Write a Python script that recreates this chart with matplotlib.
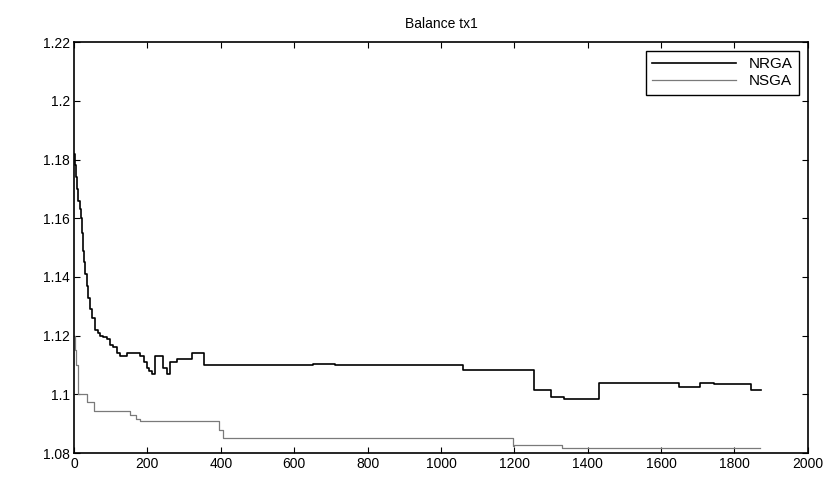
import matplotlib.pyplot as plt

plt.rcParams['font.family'] = ['Liberation Sans', 'DejaVu Sans']

# NRGA series (staircase points)
nrga_x = [0, 3, 6, 9, 12, 15, 18, 21, 24, 27, 30, 34, 39, 44, 50, 57, 64, 71, 80,
          89, 98, 107, 116, 126, 144, 162, 180, 190, 198, 205, 212, 221, 235, 243,
          253, 262, 281, 308, 321, 344, 353, 640, 650, 700, 710, 1048, 1060, 1244,
          1254, 1290, 1300, 1335, 1428, 1430, 1645, 1650, 1702, 1705, 1743, 1745,
          1840, 1845, 1872]
nrga_y = [1.182, 1.178, 1.174, 1.170, 1.166, 1.163, 1.160, 1.155, 1.149, 1.145,
          1.141, 1.137, 1.133, 1.129, 1.126, 1.122, 1.121, 1.120, 1.1195, 1.119,
          1.117, 1.116, 1.114, 1.113, 1.114, 1.114, 1.113, 1.111, 1.109, 1.108,
          1.107, 1.113, 1.113, 1.109, 1.107, 1.111, 1.112, 1.112, 1.114, 1.114,
          1.110, 1.110, 1.1105, 1.1105, 1.110, 1.110, 1.1083, 1.1083, 1.1015,
          1.1015, 1.099, 1.0984, 1.0984, 1.1039, 1.1039, 1.1025, 1.1025, 1.104,
          1.104, 1.1037, 1.1037, 1.1015, 1.1015]

# NSGA series
nsga_x = [0, 3, 6, 10, 12, 16, 34, 52, 55, 134, 153, 170, 180, 390, 395, 405,
          1181, 1195, 1200, 1320, 1330, 1870]
nsga_y = [1.12, 1.115, 1.110, 1.104, 1.100, 1.100, 1.0975, 1.0975, 1.0943,
          1.0943, 1.093, 1.0915, 1.091, 1.091, 1.088, 1.085, 1.085, 1.0823,
          1.0827, 1.0827, 1.0817, 1.0817]

fig = plt.figure(figsize=(8.32, 4.78), dpi=100)
ax = fig.add_axes([0.089, 0.052, 0.882, 0.86])

ax.plot(nrga_x, nrga_y, color='black', linewidth=1.2, drawstyle='steps-post', label='NRGA')
ax.plot(nsga_x, nsga_y, color='#7a7a7a', linewidth=0.9, drawstyle='steps-post', label='NSGA')

ax.set_xlim(0, 2000)
ax.set_ylim(1.08, 1.22)
ax.set_xticks(range(0, 2001, 200))
ax.set_yticks([1.08, 1.1, 1.12, 1.14, 1.16, 1.18, 1.2, 1.22])
ax.set_yticklabels(['1.08', '1.1', '1.12', '1.14', '1.16', '1.18', '1.2', '1.22'])
ax.tick_params(direction='in', top=True, right=True, labelsize=10, length=4, pad=3)
for s in ax.spines.values():
    s.set_linewidth(1.2)

ax.set_title('Balance tx1', fontsize=10, pad=10)
leg = ax.legend(loc='upper right', fontsize=11, fancybox=False, framealpha=1,
                edgecolor='black', handlelength=5.5, borderaxespad=0.6,
                labelspacing=0.2)
leg.get_frame().set_linewidth(1.0)

fig.savefig('out.png', dpi=100)
